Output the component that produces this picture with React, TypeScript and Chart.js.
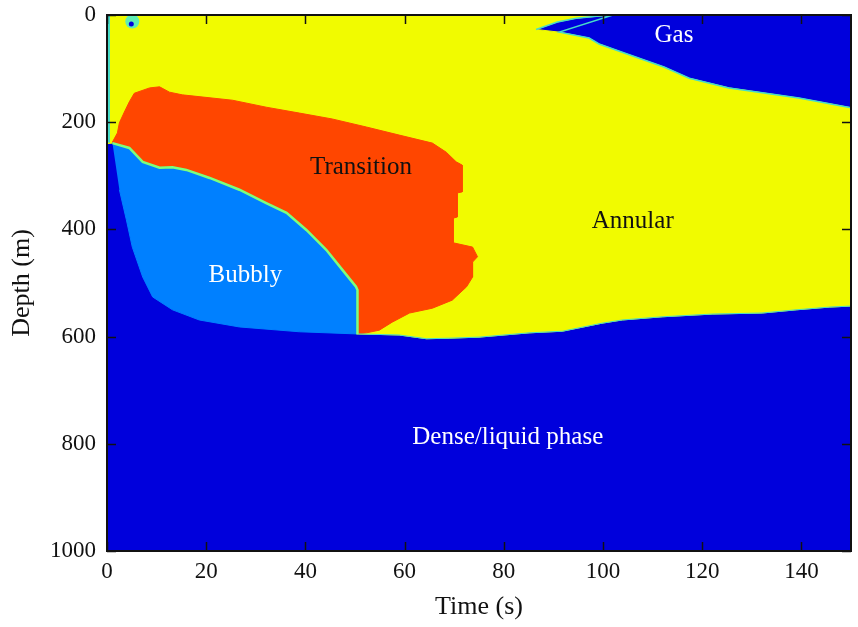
import React, { useEffect, useRef } from 'react';
import { Chart, registerables } from 'chart.js';
Chart.register(...registerables);

type P = [number, number];

// Axis ticks
const xTicks = [0, 20, 40, 60, 80, 100, 120, 140];
const yTicks = [0, 200, 400, 600, 800, 1000];

// Gas / annular boundary (upper part of gas tip, from top edge down to tip)
const gasUpper: P[] = [[102, 0], [99.2, 2], [94.6, 6], [90.8, 13], [86.5, 27]];
// Gas / annular boundary (lower side, tip to right edge)
const gasLower: P[] = [
  [86.5, 27], [91.2, 32], [97.2, 43], [99.2, 54], [104.3, 71], [112.3, 97],
  [117.4, 118], [125.4, 136], [139.5, 155], [150, 173],
];
// Dense liquid boundary (left to right)
const liquidBoundary: P[] = [
  [1.1, 239], [2.5, 326], [3.9, 382], [5.1, 433], [7.2, 489], [9.2, 526],
  [13.2, 550], [18.6, 569], [26.7, 582], [38.8, 591], [50.3, 595], [58.9, 597],
  [64.4, 604], [69, 603], [75, 601], [85.1, 593], [91.8, 590], [99.8, 575],
  [103.9, 569], [112, 563], [122, 558], [132.1, 556], [139, 550], [145.6, 545],
  [150, 543],
];
// Bubbly / transition boundary (left to right, down)
const bubblyTop: P[] = [
  [1.1, 239], [4.5, 248], [7.2, 274], [10.6, 285], [13.2, 284], [16, 289],
  [20.7, 304], [26.7, 326], [32.1, 351], [36.2, 369], [40.2, 401], [44.2, 438],
  [47.5, 476], [50.2, 507], [50.5, 513], [50.5, 595],
];
// Transition region outer boundary (clockwise from lower-left)
const transitionOuter: P[] = [
  [1.1, 237], [2.1, 220], [2.5, 201], [3.5, 181], [4.5, 162], [5.5, 146],
  [8.6, 136], [10.6, 134], [12.6, 144], [15.2, 149], [25.3, 159], [32.1, 172],
  [38.8, 183], [45.4, 194], [52.3, 209], [58.9, 224], [65.6, 239], [68.4, 256],
  [70.4, 274], [71.6, 280], [71.6, 330], [70.6, 332], [70.6, 377], [69.8, 379],
  [69.8, 425], [73.7, 433], [74.7, 451], [73.7, 461], [73.7, 489], [72.5, 507],
  [69.6, 532], [65.6, 547], [61, 556], [57.5, 573], [54.9, 588], [52.3, 593],
  [50.5, 595],
];
const leftStrip: P[] = [[0.3, 0], [0.3, 238]];
const blob: P[] = [[5.1, 12]];
const blobCore: P[] = [[4.9, 17]];

// Region labels
const labelTexts = ['Gas', 'Transition', 'Annular', 'Bubbly', 'Dense/liquid phase'];
const labelX = [114.3, 51.2, 106, 27.9, 80.8];
const labelY = [39, 285, 386, 485, 789];
const labelColors = ['#ffffff', '#111111', '#111111', '#ffffff', '#ffffff'];

const DARK_BLUE = '#0000dc';
const YELLOW = '#f1fb00';
const ORANGE = '#ff4600';
const LIGHT_BLUE = '#0080ff';
const GREEN_EDGE = '#7cff7c';
const CYAN_EDGE = '#46dcc8';
const FONT = '"Liberation Serif", "Times New Roman", serif';

const pts = (a: P[]) => a.map(([x, y]) => ({ x, y }));

export default function App() {
  const ref = useRef<HTMLCanvasElement | null>(null);

  useEffect(() => {
    if (!ref.current) return;

    const yellowPoly: P[] = [
      [0, 0],
      ...gasUpper,
      ...gasLower.slice(1),
      ...liquidBoundary.filter((p) => p[0] >= 50.3).reverse(),
      ...bubblyTop.slice().reverse(),
      [0, 240],
    ];
    const orangePoly: P[] = [
      ...transitionOuter,
      ...bubblyTop.slice(0, -1).reverse(),
    ];
    const bubblyPoly: P[] = [
      ...bubblyTop,
      ...liquidBoundary.filter((p) => p[0] <= 50.3 && p[0] > 1.1).reverse(),
    ];

    const poly = (data: P[], color: string, order: number) => ({
      data: pts(data),
      backgroundColor: color,
      borderColor: color,
      borderWidth: 1,
      fill: 'shape',
      pointRadius: 0,
      tension: 0,
      order,
    });
    const edge = (data: P[], color: string, width: number, order: number) => ({
      data: pts(data),
      borderColor: color,
      borderWidth: width,
      fill: false,
      pointRadius: 0,
      tension: 0,
      order,
    });

    const bgPlugin = {
      id: 'bg',
      beforeDatasetsDraw(chart: any) {
        const { ctx, chartArea: a } = chart;
        ctx.save();
        ctx.fillStyle = DARK_BLUE;
        ctx.fillRect(a.left, a.top, a.right - a.left, a.bottom - a.top);
        ctx.restore();
      },
    };

    const framePlugin = {
      id: 'frame',
      afterDatasetsDraw(chart: any) {
        const { ctx, chartArea: a, scales } = chart;
        const xs = scales.x;
        const ys = scales.y;
        ctx.save();
        // labels
        ctx.font = `25px ${FONT}`;
        ctx.textAlign = 'center';
        ctx.textBaseline = 'middle';
        labelTexts.forEach((t, i) => {
          ctx.fillStyle = labelColors[i];
          ctx.fillText(t, xs.getPixelForValue(labelX[i]), ys.getPixelForValue(labelY[i]));
        });
        // ticks
        ctx.strokeStyle = '#111';
        ctx.lineWidth = 1.5;
        const L = 9;
        ctx.beginPath();
        xTicks.forEach((v) => {
          const px = Math.round(xs.getPixelForValue(v)) + 0.5;
          ctx.moveTo(px, a.bottom);
          ctx.lineTo(px, a.bottom - L);
          ctx.moveTo(px, a.top);
          ctx.lineTo(px, a.top + L);
        });
        yTicks.forEach((v) => {
          const py = Math.round(ys.getPixelForValue(v)) + 0.5;
          ctx.moveTo(a.left, py);
          ctx.lineTo(a.left + L, py);
          ctx.moveTo(a.right, py);
          ctx.lineTo(a.right - L, py);
        });
        ctx.stroke();
        // frame
        ctx.lineWidth = 2;
        ctx.strokeRect(a.left, a.top, a.right - a.left, a.bottom - a.top);
        ctx.restore();
      },
    };

    const chart = new Chart(ref.current, {
      type: 'line',
      data: {
        datasets: [
          poly(yellowPoly, YELLOW, 10),
          poly(orangePoly, ORANGE, 9),
          poly(bubblyPoly, LIGHT_BLUE, 8),
          edge([...gasUpper.slice().reverse(), ...gasLower.slice(1)], CYAN_EDGE, 1.5, 6),
          edge(liquidBoundary.filter((p) => p[0] >= 50.3), CYAN_EDGE, 1, 6),
          edge(bubblyTop, GREEN_EDGE, 2.5, 5),
          edge(leftStrip, CYAN_EDGE, 3, 5),
          {
            data: pts(blob), showLine: false, pointRadius: 7, pointBorderWidth: 0,
            backgroundColor: '#5eeeb4', pointBackgroundColor: '#5eeeb4', order: 4,
          },
          {
            data: pts(blobCore), showLine: false, pointRadius: 2.5, pointBorderWidth: 0,
            backgroundColor: DARK_BLUE, pointBackgroundColor: DARK_BLUE, order: 3,
          },
        ] as any,
      },
      options: {
        responsive: false,
        animation: false,
        events: [],
        layout: { padding: { top: 15, right: 6, left: 0, bottom: 0 } },
        plugins: { legend: { display: false }, tooltip: { enabled: false } },
        scales: {
          x: {
            type: 'linear',
            min: 0,
            max: 150,
            border: { display: false },
            grid: { display: false, drawTicks: false },
            afterBuildTicks: (s: any) => { s.ticks = xTicks.map((v) => ({ value: v })); },
            afterFit: (s: any) => {
              s.height = 76;
              s.paddingLeft = 0;
              s.paddingRight = 0;
            },
            ticks: {
              color: '#111', font: { family: FONT, size: 23 }, padding: 7, maxRotation: 0,
              callback: (v: any) => String(v),
            },
            title: {
              display: true, text: 'Time (s)', color: '#111',
              font: { family: FONT, size: 26 }, padding: { top: 0, bottom: 4.4 },
            },
          },
          y: {
            type: 'linear',
            reverse: true,
            min: 0,
            max: 1000,
            border: { display: false },
            grid: { display: false, drawTicks: false },
            afterBuildTicks: (s: any) => { s.ticks = yTicks.map((v) => ({ value: v })); },
            afterFit: (s: any) => {
              s.width = 107;
              s.paddingTop = 0;
              s.paddingBottom = 0;
            },
            ticks: {
              color: '#111', font: { family: FONT, size: 23 }, padding: 11,
              callback: (v: any) => String(v),
            },
            title: {
              display: true, text: 'Depth (m)', color: '#111',
              font: { family: FONT, size: 26 }, padding: { top: 6.4, bottom: 0 },
            },
          },
        },
      },
      plugins: [bgPlugin, framePlugin],
    } as any);

    return () => chart.destroy();
  }, []);

  return (
    <div style={{ position: 'absolute', left: 0, top: 0, width: 858, height: 627, background: '#fff' }}>
      <canvas ref={ref} width={858} height={627} style={{ display: 'block' }} />
    </div>
  );
}
